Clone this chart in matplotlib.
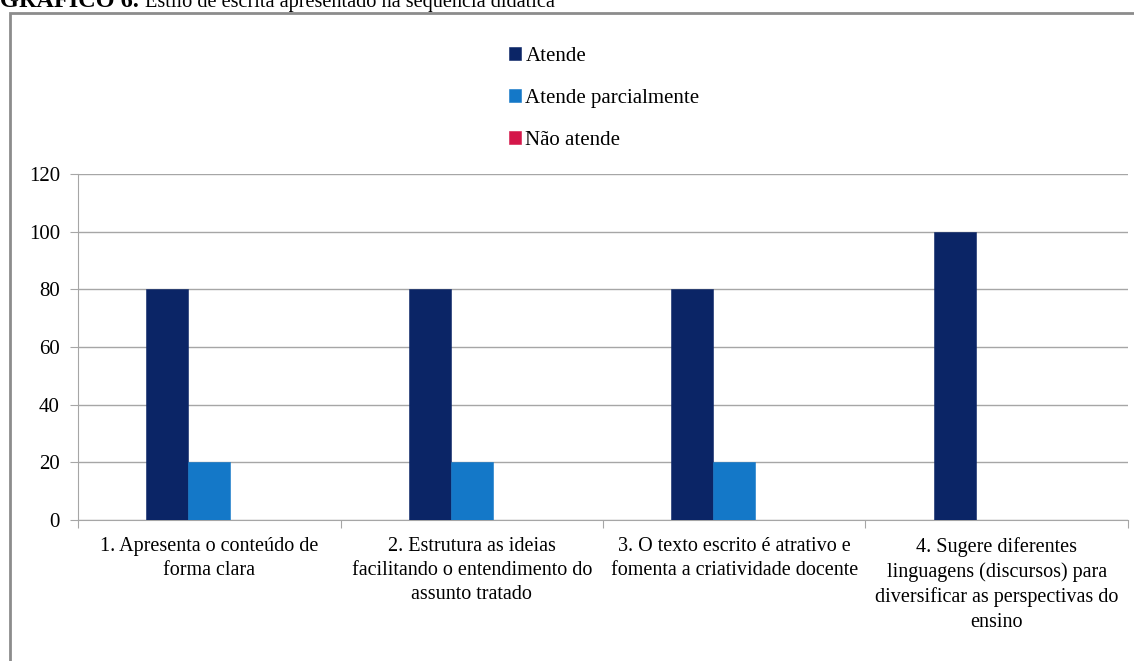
import matplotlib.pyplot as plt
import numpy as np
from matplotlib.patches import Rectangle

categories = [
    "1. Apresenta o conteúdo de\nforma clara",
    "2. Estrutura as ideias\nfacilitando o entendimento do\nassunto tratado",
    "3. O texto escrito é atrativo e\nfomenta a criatividade docente",
    "4. Sugere diferentes\nlinguagens (discursos) para\ndiversificar as perspectivas do\nensino",
]
series_names = ["Atende", "Atende parcialmente", "Não atende"]
atende = [80, 80, 80, 100]
parcial = [20, 20, 20, 0]
nao_atende = [0, 0, 0, 0]
y_ticks = [0, 20, 40, 60, 80, 100, 120]

colors = ["#0B2566", "#1478C8", "#D4174A"]
grid_color = "#A6A6A6"

plt.rcParams["font.family"] = ["Liberation Serif", "DejaVu Serif"]

fig = plt.figure(figsize=(11.34, 6.61), dpi=100)
ax = fig.add_axes([0.0688, 0.2133, 0.9259, 0.5235])

x = np.arange(len(categories))
width = 0.16
for i, (vals, name) in enumerate(zip([atende, parcial, nao_atende], series_names)):
    ax.bar(x + (i - 1) * width, vals, width, color=colors[i], label=name,
           edgecolor=colors[i], linewidth=0.4, zorder=3)

ax.set_xlim(-0.5, len(categories) - 0.5)
ax.set_ylim(0, 120)
ax.set_yticks(y_ticks)
ax.set_yticklabels([str(v) for v in y_ticks], fontsize=15)
ax.yaxis.grid(True, color=grid_color, linewidth=1, zorder=0)
ax.set_axisbelow(True)

# category boundaries as x ticks, labels centered between them
ax.set_xticks(np.arange(len(categories) + 1) - 0.5)
ax.set_xticklabels([])
ax.set_xticks(x, minor=True)
ax.set_xticklabels(categories, minor=True, fontsize=14.5, linespacing=1.38)
ax.tick_params(axis="x", which="minor", length=0, pad=12)
ax.tick_params(axis="x", which="major", length=6, color=grid_color)
ax.tick_params(axis="y", length=6, color=grid_color, pad=7)

for s in ["top", "right"]:
    ax.spines[s].set_visible(False)
for s in ["left", "bottom"]:
    ax.spines[s].set_color(grid_color)

fig.legend(loc="upper left", bbox_to_anchor=(0.432, 0.958), frameon=False,
           fontsize=15, handlelength=0.6, handleheight=0.6,
           handletextpad=0.2, labelspacing=1.12)

# outer frame
fig.patches.append(Rectangle((10 / 1134, -0.01), 1.0, 1 - 13 / 661 + 0.01,
                             transform=fig.transFigure, fill=False,
                             edgecolor="#8C8C8C", linewidth=2))

t1 = fig.text(0.0, 1 - 7 / 661, "GRÁFICO 6.", fontsize=17.5, fontweight="bold",
              va="baseline", ha="left")
fig.canvas.draw()
w = t1.get_window_extent().width
fig.text((w + 6) / 1134, 1 - 7 / 661,
         "Estilo de escrita apresentado na sequência didática",
         fontsize=14.6, va="baseline", ha="left")

fig.savefig("out.png", dpi=100)
